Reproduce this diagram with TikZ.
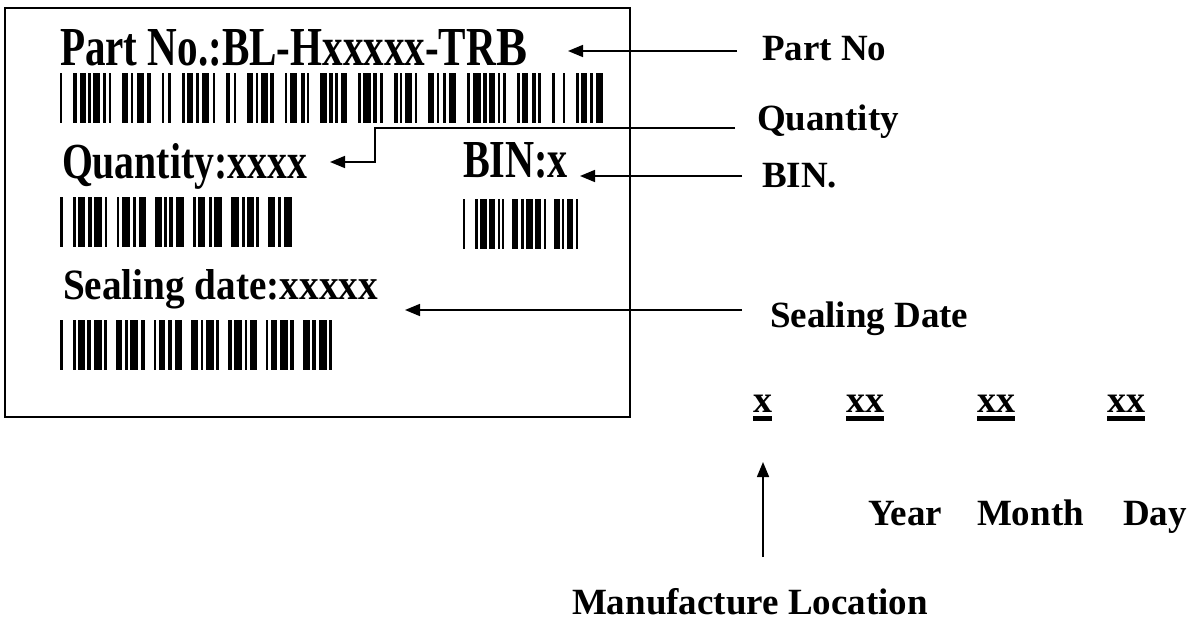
\documentclass[tikz,border=0pt]{standalone}
\usepackage{fontspec}
\setmainfont{Liberation Serif}
\usepackage{graphicx}
\usetikzlibrary{arrows.meta}
\newcommand\barcode[5]{%
  \xdef\bcsum{0}%
  \foreach \w/\s in {#5}{\pgfmathsetmacro\bctmp{\bcsum+\w+\s}\xdef\bcsum{\bctmp}}%
  \pgfmathsetmacro\bcf{#3/\bcsum}%
  \xdef\bcx{#1}%
  \foreach \w/\s in {#5}{%
    \fill (\bcx,#2) rectangle ++(\w*\bcf,#4);%
    \pgfmathsetmacro\bctmp{\bcx+(\w+\s)*\bcf}\xdef\bcx{\bctmp}}%
}
\newcommand\ulx[1]{\setbox0\hbox{#1}\rlap{\rule[-9pt]{\wd0}{5.5pt}}\box0}
\tikzset{
  lab/.style={inner sep=0pt, outer sep=0pt, anchor=base west, font=\fontsize{37}{40}\selectfont\bfseries},
  datefield/.style={inner sep=0pt, outer sep=0pt, anchor=base west, font=\fontsize{38}{40}\selectfont\bfseries},
  tag/.style={inner sep=0pt, outer sep=0pt, anchor=base west, font=\fontsize{40}{44}\selectfont\bfseries},
  pointer/.style={line width=1.6pt, -{Triangle[length=15pt,width=12pt]}},
  frame/.style={line width=1.8pt}
}
\begin{document}
\begin{tikzpicture}[x=1pt,y=-1pt]
\useasboundingbox (0,0) rectangle (1188,621);
% label frame
\draw[frame] (5,8) rectangle (630,417);
% texts inside the label
\node[tag] (tpn) at (60,65) {\resizebox{436pt}{36pt}{Part No.:BL-Hxxxxx-TR}\resizebox{31pt}{36pt}{B}};
\node[tag] (tqty) at (62,178) {\resizebox{245pt}{35pt}{Quantity:xxxx}};
\node[tag] (tbin) at (463,177) {\resizebox{105pt}{35pt}{BIN:x}};
\node[tag] (tseal) at (63,299) {\resizebox{315pt}{30pt}{Sealing date:xxxxx}};
% barcodes
\barcode{60}{73}{543}{50}{2/9, 3/2,5/2,2/2,6/2,3/2,2/9, 5/2,2/3,6/2,3/9, 2/3,3/9, 2/2,5/2,3/2,6/3,2/9, 3/3,2/9, 5/2,2/2,6/2,3/9, 2/2,6/3,3/2,2/9, 5/2,3/2,2/3,5/9, 2/2,6/2,3/3,2/9, 3/2,2/2,6/2,2/9, 5/2,2/3,3/2,6/9, 2/3,6/2,3/2,5/2,2/2,3/9, 2/2,5/3,3/2,2/9, 3/6,2/9, 2/2,5/2,3/2,6/0}
\barcode{60}{197}{232}{50}{2/8, 2/2,5/2,3/2,6/2,2/7, 2/2,6/2,3/2,5/7, 5/2,2/2,3/2,6/7, 2/2,5/3,2/2,6/7, 6/2,2/2,5/2,2/7, 5/2,3/2,6/0}
\barcode{463}{199}{115}{50}{2/8, 3/2,6/2,5/2,2/2,2/7, 5/2,3/2,6/2,5/2,2/7, 5/2,2/2,6/2,2/0}
\barcode{60}{320}{272}{50}{2/8, 2/2,5/2,3/2,6/2,2/7, 5/2,2/2,6/2,3/7, 2/2,5/2,3/2,6/7, 5/2,2/2,6/2,2/7, 3/2,6/2,2/2,5/7, 2/2,5/2,6/2,3/7, 5/2,3/2,6/2,2/0}
% explanation labels
\node[lab] (lpn) at (762,60) {Part No};
\node[lab] (lqty) at (757,130) {Quantity};
\node[lab] (lbin) at (762,187) {BIN.};
\node[lab] (lseal) at (770,327) {Sealing Date};
% pointer ends
\coordinate (pnS) at (737,51);  \coordinate (pnT) at (568,51);
\coordinate (qS) at (735,128);  \coordinate (qA) at (375,128);
\coordinate (qB) at (375,162);  \coordinate (qT) at (330,162);
\coordinate (bS) at (742,176);  \coordinate (bT) at (580,176);
\coordinate (sS) at (742,310);  \coordinate (sT) at (405,310);
\draw[pointer] (pnS) -- (pnT);
\draw[pointer] (qS) -- (qA) -- (qB) -- (qT);
\draw[pointer] (bS) -- (bT);
\draw[pointer] (sS) -- (sT);
% date code
\node[datefield] (dloc) at (753,412) {\ulx{x}};
\node[datefield] (dyear) at (846,412) {\ulx{xx}};
\node[datefield] (dmonth) at (977,412) {\ulx{xx}};
\node[datefield] (dday) at (1107,412) {\ulx{xx}};
\node[lab] (lyear) at (868,525) {Year};
\node[lab] (lmonth) at (977,525) {Month};
\node[lab] (lday) at (1123,525) {Day};
\node[lab] (lloc) at (572,614) {Manufacture Location};
\coordinate (mS) at (763,557); \coordinate (mT) at (763,462);
\draw[pointer] (mS) -- (mT);
\end{tikzpicture}
\end{document}
